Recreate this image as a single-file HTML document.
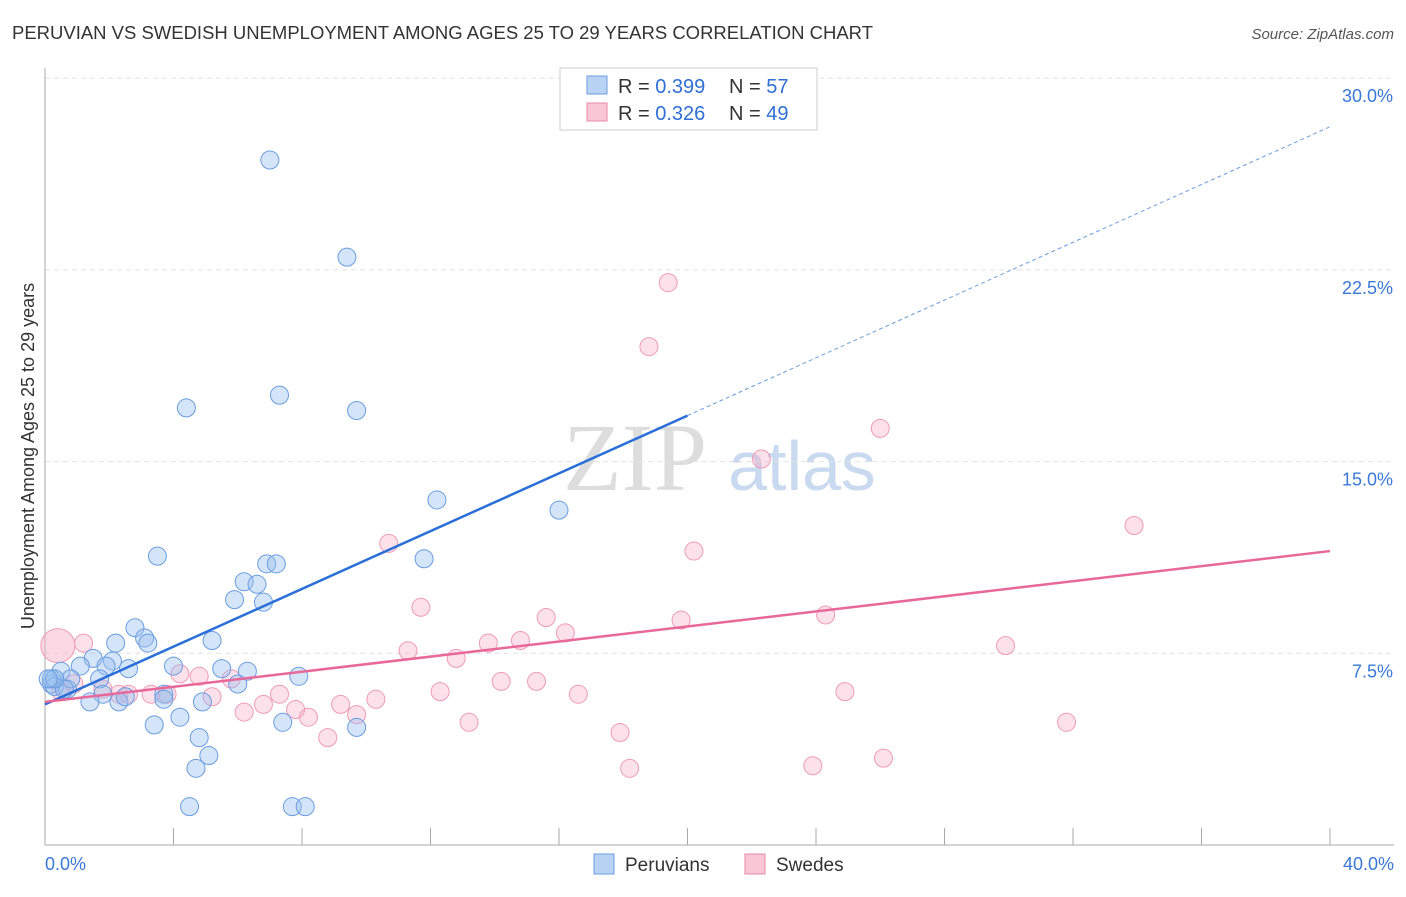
<!DOCTYPE html>
<html><head><meta charset="utf-8"><style>
body{margin:0;background:#fff;font-family:"Liberation Sans",sans-serif;}
</style></head><body>
<svg id="chart" width="1406" height="892" xmlns="http://www.w3.org/2000/svg" font-family="Liberation Sans, sans-serif">
<text x="12" y="39" font-size="18" fill="#333" textLength="861" lengthAdjust="spacingAndGlyphs">PERUVIAN VS SWEDISH UNEMPLOYMENT AMONG AGES 25 TO 29 YEARS CORRELATION CHART</text>
<text x="1394" y="39" font-size="15" fill="#555" text-anchor="end" font-style="italic">Source: ZipAtlas.com</text>
<text transform="translate(34,456) rotate(-90)" font-size="18" fill="#333" text-anchor="middle">Unemployment Among Ages 25 to 29 years</text>
<g>
<text x="635" y="490" font-size="96" fill="#ddd" font-family="Liberation Serif, serif" text-anchor="middle">ZIP</text>
<text x="802" y="490" font-size="70" fill="#c9d9f0" text-anchor="middle">atlas</text>
</g>
<g id="grid"></g><g id="axes"></g><g id="points"></g><g id="lines"></g>
<g>
<rect x="560" y="68" width="257" height="62" fill="#fff" stroke="#ccc"/>
<rect x="587" y="76" width="20" height="18" fill="#b9d3f5" stroke="#6a9de0"/>
<text x="618" y="93" font-size="20" fill="#333">R = <tspan fill="#2f6fd6">0.399</tspan></text>
<text x="729" y="93" font-size="20" fill="#333">N = <tspan fill="#2f6fd6">57</tspan></text>
<rect x="587" y="103" width="20" height="18" fill="#f9c6d6" stroke="#e88aa8"/>
<text x="618" y="120" font-size="20" fill="#333">R = <tspan fill="#2f6fd6">0.326</tspan></text>
<text x="729" y="120" font-size="20" fill="#333">N = <tspan fill="#2f6fd6">49</tspan></text>
</g>
<g>
<rect x="594" y="854" width="20" height="20" fill="#b9d3f5" stroke="#6a9de0"/>
<text x="625" y="871" font-size="19" fill="#333">Peruvians</text>
<rect x="745" y="854" width="20" height="20" fill="#f9c6d6" stroke="#e88aa8"/>
<text x="776" y="871" font-size="19" fill="#333">Swedes</text>
</g>
</svg>
<script>
const yTicks=[7.5,15,22.5,30];
const yTickLabels=["7.5%","15.0%","22.5%","30.0%"];
const xTicks=[0,4,8,12,16,20,24,28,32,36,40];
const peruX=[7.0,9.4,4.4,7.3,9.7,12.2,16.0,3.5,11.8,6.9,7.2,6.2,6.6,5.9,6.8,2.8,2.2,3.1,3.2,5.2,1.5,1.1,2.1,1.9,2.6,4.0,5.5,6.3,7.9,6.0,0.5,0.2,0.3,0.7,0.8,1.7,1.8,1.4,2.3,2.5,3.7,3.7,4.9,3.4,4.2,7.4,9.7,4.8,5.1,4.7,4.5,7.7,8.1,0.6,0.2,0.3,0.1];
const peruY=[26.8,23.0,17.1,17.6,17.0,13.5,13.1,11.3,11.2,11.0,11.0,10.3,10.2,9.6,9.5,8.5,7.9,8.1,7.9,8.0,7.3,7.0,7.2,7.0,6.9,7.0,6.9,6.8,6.6,6.3,6.8,6.3,6.2,6.1,6.5,6.5,5.9,5.6,5.6,5.8,5.9,5.7,5.6,4.7,5.0,4.8,4.6,4.2,3.5,3.0,1.5,1.5,1.5,6.1,6.5,6.5,6.5];
const sweX=[19.4,18.8,26.0,22.3,33.9,10.7,20.2,11.7,15.6,24.3,16.2,19.8,13.8,14.8,11.3,12.8,29.9,1.2,4.2,4.8,5.8,14.2,15.3,1.8,2.3,2.6,3.3,3.8,5.2,7.3,12.3,16.6,24.9,6.8,6.2,7.8,8.2,9.2,10.3,9.7,13.2,31.8,8.8,17.9,18.2,23.9,26.1,0.9,0.5];
const sweY=[22.0,19.5,16.3,15.1,12.5,11.8,11.5,9.3,8.9,9.0,8.3,8.8,7.9,8.0,7.6,7.3,7.8,7.9,6.7,6.6,6.5,6.4,6.4,6.1,5.9,5.9,5.9,5.9,5.8,5.9,6.0,5.9,6.0,5.5,5.2,5.3,5.0,5.5,5.7,5.1,4.8,4.8,4.2,4.4,3.0,3.1,3.4,6.3,6.0];
const blueLine=[[0,5.5],[20,16.8],[40,28.1]];
const pinkLine=[[0,5.6],[40,11.5]];
const NS="http://www.w3.org/2000/svg";
const X=v=>45+v*32.125, Y=v=>845-v*25.56;
function mk(t,a,p){const e=document.createElementNS(NS,t);for(const k in a)e.setAttribute(k,a[k]);document.getElementById(p).appendChild(e);return e;}
yTicks.forEach((t,i)=>{
 const l=mk('line',{x1:45,x2:1394,y1:Y(t),y2:Y(t),stroke:'#e2e2e2','stroke-dasharray':'5,4'},'grid');
 
 
 const tx=mk('text',{x:1393,y:Y(t)+24,'font-size':18,fill:'#3a78d8','text-anchor':'end'},'axes');tx.textContent=yTickLabels[i];
 
 
});
mk('line',{x1:45,x2:45,y1:68,y2:845,stroke:'#aaa'},'axes');
mk('line',{x1:45,x2:1394,y1:845,y2:845,stroke:'#aaa'},'axes');
xTicks.forEach(t=>{const l=mk('line',{x1:X(t),x2:X(t),y1:828,y2:845,stroke:'#aaa'},'axes');
 
 });
[[0,'0.0%','start',45],[40,'40.0%','end',1394]].forEach(a=>{const t=mk('text',{x:a[3],y:870,'font-size':18,fill:'#3a78d8','text-anchor':a[2]},'axes');t.textContent=a[1];
 
 });
sweX.forEach((v,i)=>{const c=mk('circle',{cx:X(v),cy:Y(sweY[i]),r:9,fill:'rgba(246,170,195,0.35)',stroke:'#ef9bb6','stroke-width':1},'points');
 
 });
const big=mk('circle',{cx:X(0.4),cy:Y(7.8),r:17,fill:'rgba(246,170,195,0.45)',stroke:'#ef9bb6'},'points');


peruX.forEach((v,i)=>{const c=mk('circle',{cx:X(v),cy:Y(peruY[i]),r:9,fill:'rgba(150,190,240,0.4)',stroke:'#6a9de0','stroke-width':1},'points');
 
 });
const b1=mk('line',{x1:X(blueLine[0][0]),y1:Y(blueLine[0][1]),x2:X(blueLine[1][0]),y2:Y(blueLine[1][1]),stroke:'#2a6fd8','stroke-width':2.5},'lines');


const b2=mk('line',{x1:X(blueLine[1][0]),y1:Y(blueLine[1][1]),x2:X(blueLine[2][0]),y2:Y(blueLine[2][1]),stroke:'#6a9de0','stroke-width':1,'stroke-dasharray':'4,3'},'lines');


const p1=mk('line',{x1:X(pinkLine[0][0]),y1:Y(pinkLine[0][1]),x2:X(pinkLine[1][0]),y2:Y(pinkLine[1][1]),stroke:'#e8689a','stroke-width':2.5},'lines');


</script>
</body></html>
